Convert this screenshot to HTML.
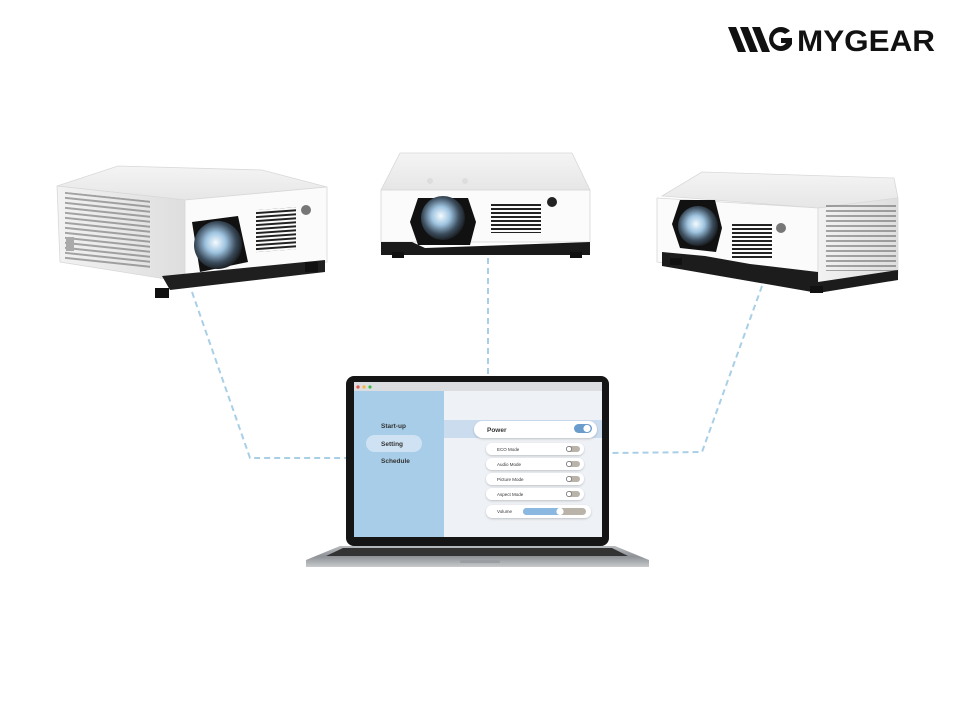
<!DOCTYPE html>
<html><head><meta charset="utf-8"><style>
html,body{margin:0;padding:0;background:#fff;}
svg{display:block;font-family:"Liberation Sans",sans-serif;}
</style></head><body>
<svg width="960" height="720" viewBox="0 0 960 720" xmlns="http://www.w3.org/2000/svg">
<defs>
<radialGradient id="lens" cx="0.45" cy="0.45" r="0.6">
<stop offset="0" stop-color="#f4fbff"/><stop offset="0.35" stop-color="#9fc4e0"/><stop offset="0.7" stop-color="#3b4c5c"/><stop offset="1" stop-color="#111"/></radialGradient>
<linearGradient id="top" x1="0" y1="0" x2="0" y2="1"><stop offset="0" stop-color="#f4f4f4"/><stop offset="1" stop-color="#e6e6e6"/></linearGradient>
<linearGradient id="side" x1="0" y1="0" x2="1" y2="0"><stop offset="0" stop-color="#f2f2f2"/><stop offset="1" stop-color="#dedede"/></linearGradient>
<linearGradient id="base" x1="0" y1="0" x2="0" y2="1"><stop offset="0" stop-color="#b9bcbf"/><stop offset="0.5" stop-color="#8e9296"/><stop offset="1" stop-color="#c8cacc"/></linearGradient>
<pattern id="vent" width="6" height="4" patternUnits="userSpaceOnUse"><rect width="6" height="2" fill="#222"/></pattern>
<pattern id="ventv" width="3" height="5" patternUnits="userSpaceOnUse"><rect width="3" height="2" fill="#555"/></pattern>
<filter id="sh" x="-10%" y="-30%" width="120%" height="160%"><feDropShadow dx="0" dy="1" stdDeviation="1" flood-opacity="0.2"/></filter>
</defs>

<!-- logo -->
<g fill="#111">
<polygon points="728,27 736,27 746,52 738,52"/>
<polygon points="740,27 748,27 758,52 750,52"/>
<polygon points="752,27 760,27 770,52 762,52"/>
<path d="M790,31 A12,12 0 1 0 792,44 L792,38 L781,38 L781,43 L786,43 A7,7 0 1 1 785,34 Z"/>
</g>
<text x="797" y="51" font-size="30" font-weight="bold" fill="#111" textLength="138" lengthAdjust="spacingAndGlyphs">MYGEAR</text>

<!-- dashed connectors -->
<g stroke="#a9cfe6" stroke-width="2" stroke-dasharray="6,4" fill="none">
<polyline points="192,292 250,458 346,458"/>
<line x1="488" y1="258" x2="488" y2="377"/>
<polyline points="762,286 702,452 612,453"/>
</g>

<!-- left projector -->
<g stroke="#d8d8d8" stroke-width="0.8">
<polygon points="57,186 118,166 262,170 327,187 185,200" fill="url(#top)"/>
<polygon points="57,186 185,200 185,282 60,262" fill="url(#side)"/>
<polygon points="185,200 327,187 327,262 185,282" fill="#fbfbfb"/>
</g>
<g>
<rect x="65" y="195" width="85" height="68" fill="url(#ventv)" transform="skewY(6) translate(0,-10)" opacity="0.5"/>
<polygon points="162,276 325,260 325,272 170,290" fill="#1f1f1f"/>
<rect x="155" y="288" width="14" height="10" fill="#111"/>
<rect x="305" y="262" width="13" height="10" fill="#111"/>
<path d="M192,222 L238,216 L248,262 L200,272 Z" fill="#111"/>
<circle cx="218" cy="245" r="24" fill="url(#lens)"/>
<rect x="256" y="210" width="40" height="42" fill="url(#vent)" transform="skewY(-4) translate(0,18)"/>
<circle cx="306" cy="210" r="5" fill="#777"/>
<rect x="66" y="237" width="8" height="14" fill="#aaa"/>
</g>

<!-- middle projector -->
<g stroke="#d8d8d8" stroke-width="0.8">
<polygon points="400,153 572,153 590,190 381,190" fill="url(#top)"/>
<rect x="381" y="190" width="209" height="52" fill="#fbfbfb"/>
</g>
<g>
<polygon points="381,242 412,242 425,248 590,242 590,255 381,255" fill="#1a1a1a"/>
<rect x="392" y="252" width="12" height="6" fill="#111"/>
<rect x="570" y="252" width="12" height="6" fill="#111"/>
<path d="M418,198 L468,198 L476,222 L470,245 L418,245 L410,222 Z" fill="#111"/>
<circle cx="443" cy="218" r="22" fill="url(#lens)"/>
<rect x="491" y="203" width="50" height="30" fill="url(#vent)"/>
<circle cx="552" cy="202" r="5" fill="#222"/>
<circle cx="430" cy="181" r="3" fill="#ddd"/><circle cx="465" cy="181" r="3" fill="#ddd"/>
</g>

<!-- right projector -->
<g stroke="#d8d8d8" stroke-width="0.8">
<polygon points="662,196 702,172 894,178 898,198 818,208" fill="url(#top)"/>
<polygon points="657,198 818,208 818,282 657,262" fill="#fbfbfb"/>
<polygon points="818,208 898,198 898,274 818,288" fill="url(#side)"/>
</g>
<g>
<rect x="826" y="205" width="70" height="66" fill="url(#ventv)" opacity="0.5"/>
<polygon points="662,252 705,256 750,264 818,272 818,282 898,270 898,280 818,293 662,266" fill="#1c1c1c"/>
<rect x="670" y="258" width="12" height="7" fill="#111"/>
<rect x="810" y="286" width="13" height="7" fill="#111"/>
<path d="M680,200 L715,200 L722,228 L716,252 L680,248 L672,224 Z" fill="#111"/>
<circle cx="698" cy="226" r="20" fill="url(#lens)"/>
<rect x="732" y="222" width="40" height="36" fill="url(#vent)"/>
<circle cx="781" cy="228" r="5" fill="#777"/>
</g>

<!-- laptop -->
<g>
<rect x="346" y="376" width="263" height="170" rx="8" fill="#151515"/>
<rect x="354" y="382" width="248" height="155" fill="#eef1f5"/>
<rect x="354" y="382" width="248" height="9" fill="#dcdde0"/>
<circle cx="358" cy="387" r="1.6" fill="#e5534b"/><circle cx="364" cy="387" r="1.6" fill="#f2b73b"/><circle cx="370" cy="387" r="1.6" fill="#3fbe4b"/>
<rect x="354" y="391" width="90" height="146" fill="#a8cde8"/>
<rect x="366" y="435" width="56" height="17" rx="8.5" fill="#cfe2f3"/>
<g font-size="6.5" font-weight="bold" fill="#333">
<text x="381" y="428">Start-up</text>
<text x="381" y="446">Setting</text>
<text x="381" y="463">Schedule</text>
</g>
<rect x="444" y="420" width="158" height="18" fill="#cadcee"/>
<rect x="474" y="421" width="123" height="17" rx="8.5" fill="#fff" filter="url(#sh)"/>
<text x="487" y="432" font-size="6.5" font-weight="bold" fill="#333">Power</text>
<rect x="574" y="424" width="18" height="9" rx="4.5" fill="#6a9ccc"/>
<circle cx="587" cy="428.5" r="3.6" fill="#fff"/>
<g font-size="4.5" fill="#333">
<rect x="486" y="443" width="98" height="12" rx="6" fill="#fff" filter="url(#sh)"/>
<text x="497" y="451">ECO Mode</text>
<rect x="486" y="458" width="98" height="12" rx="6" fill="#fff" filter="url(#sh)"/>
<text x="497" y="466">Audio Mode</text>
<rect x="486" y="473" width="98" height="12" rx="6" fill="#fff" filter="url(#sh)"/>
<text x="497" y="481">Picture Mode</text>
<rect x="486" y="488" width="98" height="12" rx="6" fill="#fff" filter="url(#sh)"/>
<text x="497" y="496">Aspect Mode</text>
<rect x="486" y="505" width="105" height="13" rx="6.5" fill="#fff" filter="url(#sh)"/>
<text x="497" y="513">Volume</text>
</g>
<g fill="#b9b3aa">
<rect x="566" y="446" width="14" height="6" rx="3"/><rect x="566" y="461" width="14" height="6" rx="3"/>
<rect x="566" y="476" width="14" height="6" rx="3"/><rect x="566" y="491" width="14" height="6" rx="3"/>
</g>
<g fill="#fff" stroke="#555" stroke-width="0.6">
<circle cx="569" cy="449" r="2.6"/><circle cx="569" cy="464" r="2.6"/><circle cx="569" cy="479" r="2.6"/><circle cx="569" cy="494" r="2.6"/>
</g>
<rect x="523" y="508" width="63" height="7" rx="3.5" fill="#b9b3aa"/>
<rect x="523" y="508" width="38" height="7" rx="3.5" fill="#8ab8e0"/>
<circle cx="560" cy="511.5" r="3.6" fill="#fff"/>
<polygon points="340,546 615,546 649,560 649,567 306,567 306,560" fill="url(#base)"/>
<polygon points="343,548 612,548 628,556 326,556" fill="#333"/>
<rect x="460" y="560" width="40" height="3" rx="1" fill="#9a9ea2"/>
</g>
</svg>
</body></html>
